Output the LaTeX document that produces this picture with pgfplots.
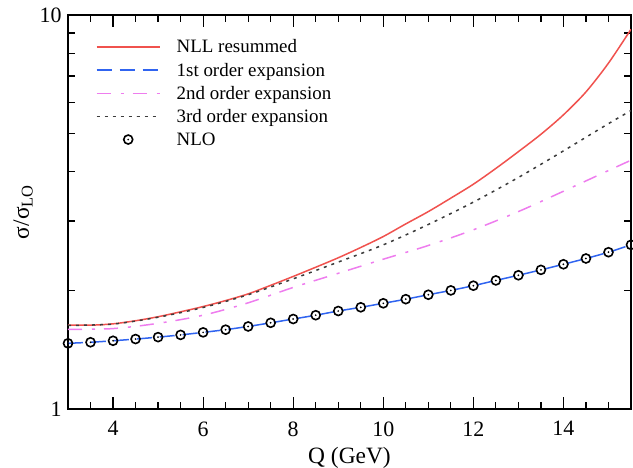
\documentclass[border=0pt]{standalone}
\usepackage{fontspec}
\setmainfont{Liberation Serif}
\usepackage{pgfplots}
\pgfplotsset{compat=1.18}

\definecolor{nllred}{RGB}{240,82,78}
\definecolor{firstblue}{RGB}{48,100,240}
\definecolor{secondmag}{RGB}{238,125,238}
\definecolor{thirdgray}{RGB}{60,60,60}

% open circle with a dot in the middle (NLO points)
\pgfdeclareplotmark{odot}{%
  \pgfpathcircle{\pgfpointorigin}{\pgfplotmarksize}\pgfusepathqstroke
  \pgfpathcircle{\pgfpointorigin}{0.22\pgfplotmarksize}\pgfusepathqfill}

\begin{document}
\begin{tikzpicture}
  \begin{axis}[
    scale only axis,
    width=563bp, height=394bp,
    ymode=log,
    xmin=3, xmax=15.5,
    ymin=1, ymax=10,
    xtick={4,6,...,14},
    minor xtick={3.5,4.5,5,5.5,6.5,7,7.5,8.5,9,9.5,10.5,11,11.5,12.5,13,13.5,14.5,15},
    ytick={1,10}, yticklabels={1,10},
    minor ytick={2,3,4,5,6,7,8,9},
    major tick length=12bp, minor tick length=7bp,
    every tick/.style={line width=1.2bp, black},
    axis line style={line width=1.3bp},
    tick label style={font=\fontsize{22}{26}\selectfont},
    /pgf/number format/assume math mode=true,
    xticklabel style={yshift=-9bp},
    yticklabel style={xshift=-3bp},
    label style={font=\fontsize{23.5}{28}\selectfont},
    xlabel={Q (GeV)},
    ylabel={σ/σ\textsubscript{LO}},
    xlabel style={yshift=-4bp},
    legend cell align=left,
    legend style={draw=none, fill=none, at={(0.044,0.948)}, anchor=north west,
      font=\fontsize{19}{23}\selectfont, row sep=4.6bp,
      nodes={inner xsep=0bp}},
    legend image code/.code={\draw[mark repeat=2,mark phase=2,#1]
      plot coordinates {(0bp,0bp)(31.5bp,0bp)(63bp,0bp)};
      \draw[draw=none] (63bp,0bp) -- (80bp,0bp);},
  ]
    \addplot[nllred, line width=1.5bp, smooth] coordinates {
      (3,1.634) (3.5,1.632) (4,1.645) (4.5,1.675) (5,1.715) (5.5,1.765) (6,1.82)
      (6.5,1.885) (7,1.96) (7.5,2.06) (8,2.17) (8.5,2.29) (9,2.42) (9.5,2.57)
      (10,2.74) (10.5,2.95) (11,3.17) (11.5,3.43) (12,3.72) (12.5,4.08)
      (13,4.50) (13.5,4.98) (14,5.58) (14.5,6.38) (15,7.55) (15.5,9.2)
    };
    \addlegendentry{NLL resummed}
    \addplot[firstblue, line width=1.5bp, dash pattern=on 15bp off 8bp, smooth] coordinates {
      (3,1.468) (3.5,1.477) (4,1.49) (4.5,1.505) (5,1.522) (5.5,1.542) (6,1.565)
      (6.5,1.59) (7,1.62) (7.5,1.655) (8,1.692) (8.5,1.73) (9,1.773) (9.5,1.812)
      (10,1.855) (10.5,1.90) (11,1.95) (11.5,2.0) (12,2.056) (12.5,2.12)
      (13,2.185) (13.5,2.255) (14,2.33) (14.5,2.41) (15,2.50) (15.5,2.61)
    };
    \addlegendentry{1st order expansion}
    \addplot[secondmag, line width=1.5bp, dash pattern=on 14bp off 10bp on 3bp off 9bp, smooth] coordinates {
      (3,1.593) (4,1.60) (5,1.65) (6,1.73) (7,1.86) (8,2.035) (9,2.21)
      (10,2.40) (11,2.60) (12,2.85) (13,3.17) (14,3.57) (15,4.03) (15.5,4.28)
    };
    \addlegendentry{2nd order expansion}
    \addplot[thirdgray, line width=1.5bp, dash pattern=on 3bp off 5bp, smooth] coordinates {
      (3,1.63) (4,1.643) (5,1.71) (6,1.81) (7,1.95) (8,2.14) (9,2.36)
      (10,2.61) (11,2.94) (12,3.35) (13,3.87) (14,4.52) (15,5.30) (15.5,5.72)
    };
    \addlegendentry{3rd order expansion}
    \addplot[only marks, mark=odot, mark size=4.5bp, mark options={black, line width=1.6bp}] coordinates {
      (3,1.468) (3.5,1.477) (4,1.49) (4.5,1.505) (5,1.522) (5.5,1.542) (6,1.565)
      (6.5,1.59) (7,1.62) (7.5,1.655) (8,1.692) (8.5,1.73) (9,1.773) (9.5,1.812)
      (10,1.855) (10.5,1.90) (11,1.95) (11.5,2.0) (12,2.056) (12.5,2.12)
      (13,2.185) (13.5,2.255) (14,2.33) (14.5,2.41) (15,2.50) (15.5,2.61)
    };
    \addlegendentry{NLO}
  \end{axis}
  \pgfresetboundingbox
  \path[use as bounding box] ([xshift=-68bp,yshift=-59bp]current axis.south west)
    rectangle ([xshift=2bp,yshift=15bp]current axis.north east);
\end{tikzpicture}
\end{document}
